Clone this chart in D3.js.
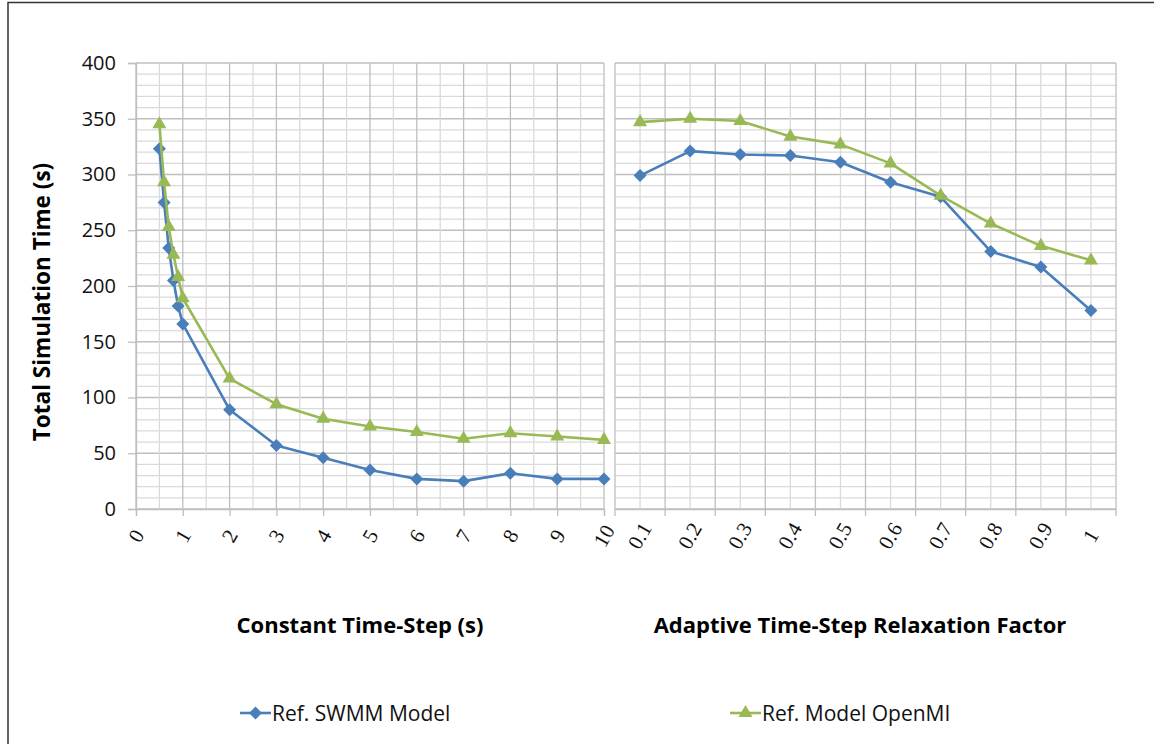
<!DOCTYPE html>
<html>
<head>
<meta charset="utf-8">
<script src="https://cdn.jsdelivr.net/npm/d3@7"></script>
<style>
  html, body { margin: 0; padding: 0; background: #fff; }
  svg { display: block; }
</style>
</head>
<body>
<svg id="chart" width="1154" height="744"></svg>
<script>
// Constant time-step runs (seconds)
const constSteps = [0.5, 0.6, 0.7, 0.8, 0.9, 1, 2, 3, 4, 5, 6, 7, 8, 9, 10];
const constSwmm  = [323, 275, 234, 205, 182, 166, 89, 57, 46, 35, 27, 25, 32, 27, 27];
const constOpenmi = [345, 293, 253, 228, 208, 189, 117, 94, 81, 74, 69, 63, 68, 65, 62];

// Adaptive time-step runs (relaxation factor)
const relaxFactors = ["0.1", "0.2", "0.3", "0.4", "0.5", "0.6", "0.7", "0.8", "0.9", "1"];
const adaptSwmm   = [299, 321, 318, 317, 311, 293, 280, 231, 217, 178];
const adaptOpenmi = [347, 350, 348, 334, 327, 310, 281, 256, 236, 223];

const yTicks = [0, 50, 100, 150, 200, 250, 300, 350, 400];
const constTicks = [0, 1, 2, 3, 4, 5, 6, 7, 8, 9, 10];

const seriesNames = ["Ref. SWMM Model", "Ref. Model OpenMI"];
const BLUE = "#4a7ebb", GREEN = "#98b954";
const GRID_MAJOR = "#bfbfbf", GRID_MINOR = "#dadada";
const SANS = "'Open Sans', sans-serif";
const SERIF = "'Liberation Serif', serif";

const svg = d3.select("#chart");

// outer frame
svg.append("path")
  .attr("d", "M8,760 L8,2.5 L1170,2.5")
  .attr("fill", "none").attr("stroke", "#333").attr("stroke-width", 1.5);

const plotTop = 63, plotBottom = 509;
const y = d3.scaleLinear().domain([0, 400]).range([plotBottom, plotTop]);

// left panel: numeric x axis
const xL = d3.scaleLinear().domain([0, 10]).range([136, 604]);
// right panel: category axis
const xR = d3.scaleBand().domain(relaxFactors).range([615, 1116]);
const xRc = c => xR(c) + xR.bandwidth() / 2;

const grid = svg.append("g");

function hGrid(x0, x1) {
  d3.range(0, 401, 10).forEach(v => {
    grid.append("line")
      .attr("x1", x0).attr("x2", x1)
      .attr("y1", y(v)).attr("y2", y(v))
      .attr("stroke", v % 50 === 0 ? GRID_MAJOR : GRID_MINOR)
      .attr("stroke-width", 1.3);
  });
}
hGrid(136, 604);
hGrid(615, 1116);

// left vertical grid: minor at halves, major at integers
d3.range(0, 10.01, 0.5).forEach(v => {
  grid.append("line")
    .attr("x1", xL(v)).attr("x2", xL(v))
    .attr("y1", plotTop).attr("y2", plotBottom)
    .attr("stroke", Number.isInteger(v) ? GRID_MAJOR : GRID_MINOR)
    .attr("stroke-width", 1.3);
});
// right vertical grid: minor at category centres, major at boundaries
relaxFactors.forEach(c => {
  grid.append("line")
    .attr("x1", xRc(c)).attr("x2", xRc(c))
    .attr("y1", plotTop).attr("y2", plotBottom)
    .attr("stroke", GRID_MINOR).attr("stroke-width", 1.3);
});
const boundaries = xR.domain().map(c => xR(c)).concat([xR.range()[1]]);
boundaries.forEach(px => {
  grid.append("line")
    .attr("x1", px).attr("x2", px)
    .attr("y1", plotTop).attr("y2", plotBottom)
    .attr("stroke", GRID_MAJOR).attr("stroke-width", 1.3);
});

// y axis
const yAxis = d3.axisLeft(y).tickValues(yTicks).tickSize(8).tickPadding(12);
const yG = svg.append("g").attr("transform", "translate(136,0)").call(yAxis);
yG.select(".domain").attr("stroke", GRID_MAJOR).attr("stroke-width", 1.3);
yG.selectAll(".tick line").attr("stroke", GRID_MAJOR).attr("stroke-width", 1.3);
yG.selectAll("text")
  .attr("font-family", SANS).attr("font-size", 20).attr("fill", "#111");

// rotated category-style labels, centred under their tick
function styleXLabels(g) {
  g.selectAll(".tick text")
    .attr("font-family", SERIF).attr("font-size", 21).attr("fill", "#111")
    .attr("text-anchor", "middle").attr("x", 0).attr("y", 0).attr("dy", "0.32em")
    .attr("transform", "translate(0,27) rotate(-60)");
}

const xAxisL = d3.axisBottom(xL).tickValues(constTicks).tickSize(7).tickFormat(d3.format("d"));
const xLG = svg.append("g").attr("transform", `translate(0,${plotBottom})`).call(xAxisL);
xLG.select(".domain").attr("stroke", GRID_MAJOR).attr("stroke-width", 1.3);
xLG.selectAll(".tick line").attr("stroke", GRID_MAJOR).attr("stroke-width", 1.3);
styleXLabels(xLG);

const xAxisR = d3.axisBottom(xR).tickSize(0);
const xRG = svg.append("g").attr("transform", `translate(0,${plotBottom})`).call(xAxisR);
xRG.select(".domain").attr("stroke", GRID_MAJOR).attr("stroke-width", 1.3);
styleXLabels(xRG);
// tick marks between categories
boundaries.forEach(px => {
  xRG.append("line").attr("x1", px).attr("x2", px).attr("y1", 0).attr("y2", 7)
    .attr("stroke", GRID_MAJOR).attr("stroke-width", 1.3);
});

// titles
svg.append("text")
  .attr("transform", "translate(50,302) rotate(-90)")
  .attr("text-anchor", "middle")
  .attr("font-family", SANS).attr("font-weight", "bold").attr("font-size", 22.5)
  .text("Total Simulation Time (s)");
svg.append("text")
  .attr("x", 360).attr("y", 633).attr("text-anchor", "middle")
  .attr("font-family", SANS).attr("font-weight", "bold").attr("font-size", 22)
  .text("Constant Time-Step (s)");
svg.append("text")
  .attr("x", 860).attr("y", 633).attr("text-anchor", "middle")
  .attr("font-family", SANS).attr("font-weight", "bold").attr("font-size", 22)
  .text("Adaptive Time-Step Relaxation Factor");

// markers
const diamond = "M0,-6.5L6.5,0L0,6.5L-6.5,0Z";
const triangle = d3.symbol().type(d3.symbolTriangle).size(85)();

function drawSeries(xs, ys, xfn, color, sym) {
  const pts = xs.map((xv, i) => [xfn(xv), y(ys[i])]);
  svg.append("path")
    .attr("d", d3.line()(pts))
    .attr("fill", "none").attr("stroke", color).attr("stroke-width", 2.6)
    .attr("stroke-linejoin", "round");
  svg.append("g").selectAll("path").data(pts).join("path")
    .attr("d", sym)
    .attr("transform", d => `translate(${d[0]},${d[1]})`)
    .attr("fill", color);
}

drawSeries(constSteps, constSwmm, xL, BLUE, diamond);
drawSeries(constSteps, constOpenmi, xL, GREEN, triangle);
drawSeries(relaxFactors, adaptSwmm, xRc, BLUE, diamond);
drawSeries(relaxFactors, adaptOpenmi, xRc, GREEN, triangle);

// legend
const legend = [
  { name: seriesNames[0], color: BLUE, sym: diamond, x: 240 },
  { name: seriesNames[1], color: GREEN, sym: triangle, x: 730 }
];
legend.forEach(l => {
  const g = svg.append("g").attr("transform", `translate(${l.x},713)`);
  g.append("line").attr("x1", 0).attr("x2", 31).attr("y1", 0).attr("y2", 0)
    .attr("stroke", l.color).attr("stroke-width", 2.6);
  g.append("path").attr("d", l.sym).attr("transform", "translate(15.5,0)").attr("fill", l.color);
  g.append("text").attr("x", 32).attr("y", 8)
    .attr("font-family", SANS).attr("font-size", 21).attr("fill", "#111")
    .text(l.name);
});
</script>
</body>
</html>
